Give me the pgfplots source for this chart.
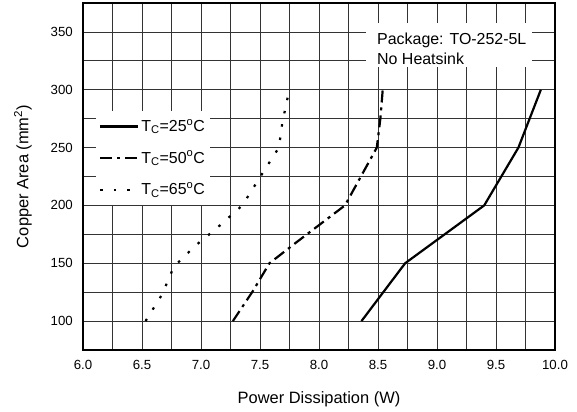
\documentclass[border=0pt]{standalone}
\usepackage{pgfplots}
\pgfplotsset{compat=1.18}
\usepackage{fontspec}
\setmainfont{Liberation Sans}
\begin{document}
\fontsize{16.5}{20}\selectfont
\begin{tikzpicture}
\begin{axis}[
    name=ax,
    scale only axis,
    width=472bp, height=347bp,
    xmin=6, xmax=10, ymin=75, ymax=375,
    xtick={6,6.5,...,10}, ytick={100,150,...,350},
    minor tick num=1,
    grid=both,
    major grid style={black!80, line width=0.8bp},
    minor grid style={black!80, line width=0.8bp},
    major tick length=0, minor tick length=0,
    axis line style={black, line width=1.3bp},
    tick label style={font=\fontsize{13.3}{16}\selectfont},
    xticklabel style={yshift=-5bp, /pgf/number format/fixed,
        /pgf/number format/fixed zerofill, /pgf/number format/precision=1},
    yticklabel style={xshift=-4.5bp},
    /pgf/number format/assume math mode=true,
    xlabel={Power Dissipation (W)},
    ylabel={Copper Area (mm\textsuperscript{2})},
    every axis x label/.style={at={(rel axis cs:0.5,-0.1023)}, anchor=north},
    every axis y label/.style={at={(rel axis cs:-0.0964,0.5)}, anchor=south, rotate=90},
    legend style={at={(rel axis cs:0.0275,0.689)}, anchor=north west, draw=none,
        fill=white, row sep=13bp, inner xsep=3bp, inner ysep=6bp,
        font=\fontsize{16}{19}\selectfont},
    legend cell align=left,
    legend image code/.code={\draw[#1] (0bp,0bp) -- (38bp,0bp);},
]
% Tc = 25 C
\addplot[black, line width=2.2bp] coordinates {
    (8.36,100) (8.73,150) (9.40,200) (9.69,250) (9.88,300)
};
\addlegendentry{T\textsubscript{C}=25\textsuperscript{o}C}
% Tc = 50 C
\addplot[black, line width=2.2bp, dash pattern=on 12bp off 5bp on 3bp off 5bp] coordinates {
    (7.27,100) (7.44,126) (7.58,150) (7.82,169) (8.22,200) (8.49,250) (8.52,275) (8.54,300)
};
\addlegendentry{T\textsubscript{C}=50\textsuperscript{o}C}
% Tc = 65 C
\addplot[black, line width=2.2bp, dash pattern=on 2.5bp off 11bp] coordinates {
    (6.53,100) (6.67,123) (6.77,147) (6.95,165) (7.13,180) (7.35,200) (7.51,226) (7.66,250) (7.69,272) (7.74,296)
};
\addlegendentry{T\textsubscript{C}=65\textsuperscript{o}C}
% package note
\fill[white] (rel axis cs:0.5996,0.8156) rectangle (rel axis cs:0.9513,0.9424);
\node[anchor=base west, inner sep=0pt, font=\fontsize{16}{19}\selectfont] at (rel axis cs:0.6229,0.8818) {Package: TO-252-5L};
\node[anchor=base west, inner sep=0pt, font=\fontsize{16}{19}\selectfont] at (rel axis cs:0.6229,0.8242) {No Heatsink};
\end{axis}
\path ([shift={(-83bp,-62bp)}]ax.south west) rectangle ([shift={(22bp,3bp)}]ax.north east);
\end{tikzpicture}
\end{document}
